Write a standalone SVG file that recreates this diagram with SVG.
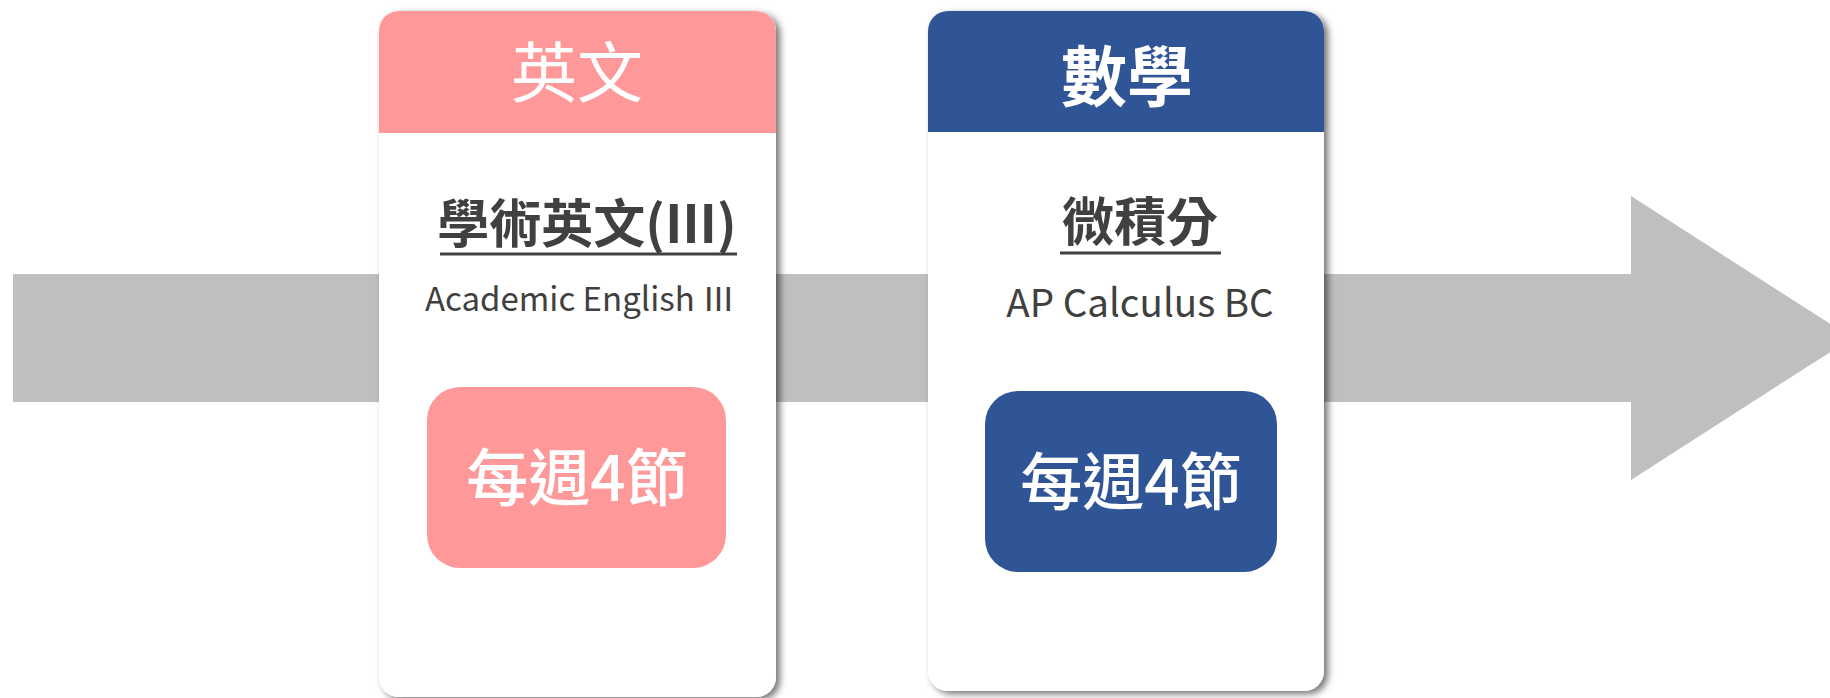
<svg xmlns="http://www.w3.org/2000/svg" width="1830" height="698" viewBox="0 0 1830 698">
<defs>
<filter id="sh" x="-10%" y="-10%" width="120%" height="120%">
<feDropShadow dx="4" dy="3" stdDeviation="3.5" flood-color="#000" flood-opacity="0.55"/>
</filter>
<style>
.card{fill:#fff;filter:url(#sh)}
.pink{fill:#FF9999}
.blue{fill:#2F5597}
.t{font-family:"Noto Sans CJK TC","Noto Sans",sans-serif;text-anchor:middle}
.head{fill:#fff;font-size:66px}
.sub{fill:#404040;font-size:52px;font-weight:bold}
.en{fill:#404040}
.pill{fill:#fff;font-size:62px;font-weight:500}
.ul{stroke:#404040;stroke-width:3}
</style>
</defs>
<rect width="1830" height="698" fill="#fff"/>
<g id="connectors">
<polygon id="timeline-arrow" points="13,274 1631,274 1631,196 1852,338 1631,480 1631,402 13,402" fill="#BFBFBF"/>
</g>
<g id="english">
<rect class="card" x="379" y="11" width="397" height="686" rx="20"/>
<path class="pink" d="M379,133 V31 A20,20 0 0 1 399,11 H756 A20,20 0 0 1 776,31 V133 Z"/>
<text class="t head" x="577" y="97">英文</text>
<text class="t sub" x="587" y="243">學術英文(Ⅲ)</text>
<line class="ul" x1="440" y1="254" x2="737" y2="254"/>
<text class="t en" x="580" y="311" font-size="33">Academic English Ⅲ</text>
<rect class="pink" x="427" y="387" width="299" height="181" rx="33"/>
<text class="t pill" x="577" y="501">每週4節</text>
</g>
<g id="math">
<rect class="card" x="928" y="11" width="396" height="680" rx="20"/>
<path class="blue" d="M928,132 V31 A20,20 0 0 1 948,11 H1304 A20,20 0 0 1 1324,31 V132 Z"/>
<text class="t head" x="1127" y="101" font-weight="bold">數學</text>
<text class="t sub" x="1140" y="241">微積分</text>
<line class="ul" x1="1060" y1="253" x2="1221" y2="253"/>
<text class="t en" x="1140" y="317" font-size="38.5">AP Calculus BC</text>
<rect class="blue" x="985" y="391" width="292" height="181" rx="33"/>
<text class="t pill" x="1131" y="505">每週4節</text>
</g>
</svg>
